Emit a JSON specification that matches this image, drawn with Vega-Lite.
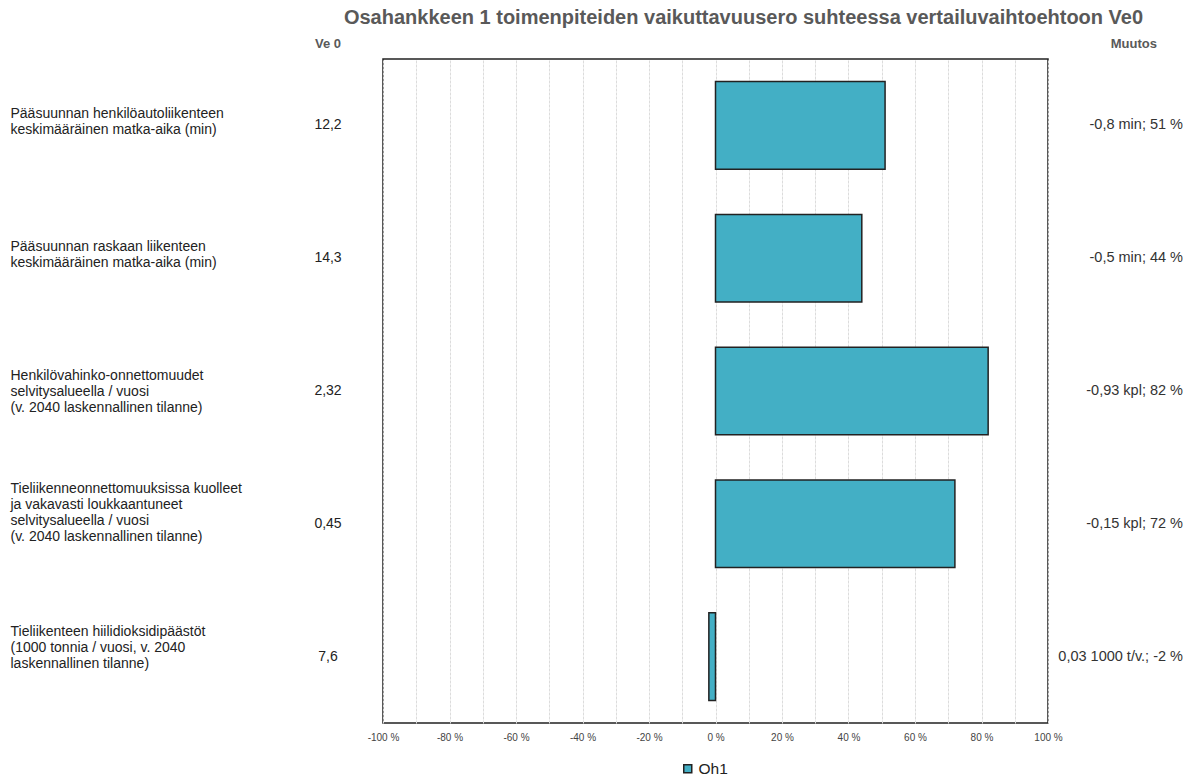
{
  "$schema": "https://vega.github.io/schema/vega-lite/v6.json",
  "padding": {"left": 10, "top": 8, "right": 6, "bottom": 4},
  "bounds": "flush",
  "spacing": 20,
  "title": {
    "text": "Osahankkeen 1 toimenpiteiden vaikuttavuusero suhteessa vertailuvaihtoehtoon Ve0",
    "font": "Liberation Sans",
    "fontSize": 20,
    "fontWeight": "bold",
    "color": "#595959",
    "anchor": "middle",
    "dx": 147,
    "offset": 10
  },
  "data": {
    "values": [
      {"label": "Pääsuunnan henkilöautoliikenteen|keskimääräinen matka-aika (min)", "ve0": "12,2", "pct": 51, "muutos": "-0,8 min; 51 %", "series": "Oh1"},
      {"label": "Pääsuunnan raskaan  liikenteen|keskimääräinen matka-aika (min)", "ve0": "14,3", "pct": 44, "muutos": "-0,5 min; 44 %", "series": "Oh1"},
      {"label": "Henkilövahinko-onnettomuudet|selvitysalueella / vuosi|(v. 2040 laskennallinen tilanne)", "ve0": "2,32", "pct": 82, "muutos": "-0,93 kpl; 82 %", "series": "Oh1"},
      {"label": "Tieliikenneonnettomuuksissa kuolleet|ja vakavasti loukkaantuneet|selvitysalueella / vuosi|(v. 2040 laskennallinen tilanne)", "ve0": "0,45", "pct": 72, "muutos": "-0,15 kpl; 72 %", "series": "Oh1"},
      {"label": "Tieliikenteen hiilidioksidipäästöt|(1000 tonnia / vuosi, v. 2040|laskennallinen tilanne)", "ve0": "7,6", "pct": -2, "muutos": "0,03 1000 t/v.; -2 %", "series": "Oh1"}
    ]
  },
  "hconcat": [
    {
      "width": 70,
      "height": 664,
      "view": {"stroke": null},
      "title": {"text": "Ve 0", "font": "Liberation Sans", "fontSize": 13, "fontWeight": "bold", "color": "#595959", "anchor": "middle", "offset": 8},
      "mark": {"type": "text", "font": "Liberation Sans", "fontSize": 14, "color": "#222"},
      "encoding": {
        "y": {
          "field": "label", "type": "nominal", "sort": null,
          "scale": {"paddingInner": 0.34, "paddingOuter": 0.17},
          "axis": {
            "title": null, "orient": "left", "ticks": false, "domain": false,
            "labelAlign": "left", "labelBaseline": "middle", "labelPadding": 283,
            "labelLimit": 0, "labelFont": "Liberation Sans", "labelFontSize": 14,
            "labelColor": "#222", "labelLineHeight": 16,
            "labelOffset": {
              "condition": [
                {"test": "indexof(datum.value, 'Tieliikenneonnettomuuksissa') >= 0", "value": -35},
                {"test": "indexof(datum.value, 'hiilidioksidi') >= 0", "value": -25},
                {"test": "indexof(datum.value, 'Henkilövahinko') >= 0", "value": -16}
              ],
              "value": -12
            },
            "labelExpr": "split(datum.value, '|')"
          }
        },
        "text": {"field": "ve0"}
      }
    },
    {
      "width": 665,
      "height": 664,
      "view": {"stroke": "#222", "strokeWidth": 1.5},
      "mark": {"type": "bar", "stroke": "#222", "strokeWidth": 1.5},
      "encoding": {
        "y": {
          "field": "label", "type": "nominal", "sort": null,
          "scale": {"paddingInner": 0.34, "paddingOuter": 0.17},
          "axis": null
        },
        "x": {
          "field": "pct", "type": "quantitative",
          "scale": {"domain": [-100, 100], "nice": false},
          "axis": {
            "title": null,
            "values": [-100, -90, -80, -70, -60, -50, -40, -30, -20, -10, 0, 10, 20, 30, 40, 50, 60, 70, 80, 90, 100],
            "labelExpr": "datum.value % 20 == 0 ? datum.value + ' %' : ''",
            "labelFlush": false,
            "ticks": false, "domain": false,
            "grid": true, "gridColor": "#dcdcdc", "gridDash": [3, 1],
            "labelFont": "Liberation Sans",
            "labelFontSize": 10, "labelColor": "#444", "labelPadding": 9
          }
        },
        "color": {
          "field": "series", "type": "nominal",
          "scale": {"range": ["#43AFC5"]},
          "legend": {
            "title": null, "orient": "none", "direction": "horizontal",
            "legendX": 387, "legendY": 702,
            "symbolType": "square", "symbolSize": 64, "symbolStrokeColor": "#222",
            "symbolStrokeWidth": 1.5, "labelFont": "Liberation Sans", "labelFontSize": 15.5,
            "labelColor": "#222", "labelOffset": 3
          }
        }
      }
    },
    {
      "width": 115,
      "height": 664,
      "view": {"stroke": null},
      "title": {"text": "Muutos", "font": "Liberation Sans", "fontSize": 13, "fontWeight": "bold", "color": "#595959", "anchor": "end", "dx": -26, "offset": 8},
      "mark": {"type": "text", "x": "width", "align": "right", "font": "Liberation Sans", "fontSize": 14.5, "color": "#333"},
      "encoding": {
        "y": {
          "field": "label", "type": "nominal", "sort": null,
          "scale": {"paddingInner": 0.34, "paddingOuter": 0.17},
          "axis": null
        },
        "text": {"field": "muutos"}
      }
    }
  ]
}
